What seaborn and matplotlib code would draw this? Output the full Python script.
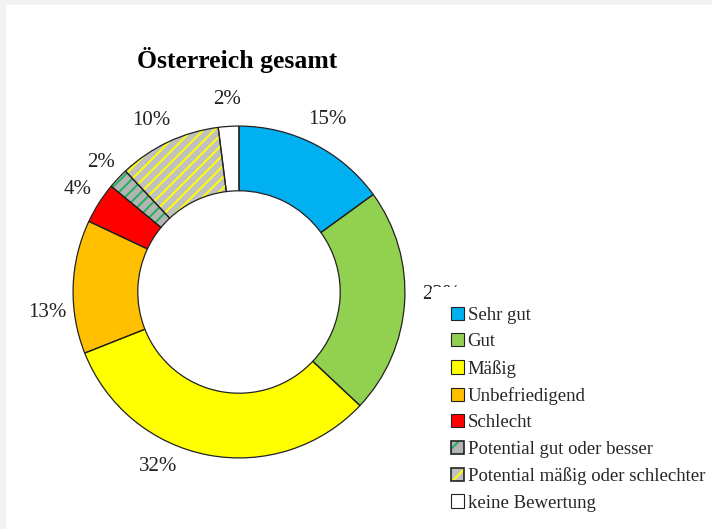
import numpy as np
import seaborn as sns
import matplotlib.pyplot as plt
from matplotlib.patches import Patch, Rectangle

# data
categories = ['Sehr gut', 'Gut', 'Mäßig', 'Unbefriedigend', 'Schlecht',
              'Potential gut oder besser', 'Potential mäßig oder schlechter',
              'keine Bewertung']
shares = [15, 22, 32, 13, 4, 2, 10, 2]
pct_labels = ['15%', '22%', '32%', '13%', '4%', '2%', '10%', '2%']

# styling
face_colors = ['#00B0F0', '#92D050', '#FFFF00', '#FFC000', '#FF0000',
               '#B4B4B4', '#C0C0C0', '#FFFFFF']
stripe_colors = [None, None, None, None, None, '#1FB25A', '#FFFF00', None]

sns.set_theme(style='white')
plt.rcParams['font.family'] = ['Liberation Serif', 'DejaVu Serif']
plt.rcParams['hatch.linewidth'] = 1.4

fig = plt.figure(figsize=(7.12, 5.29), dpi=100)
fig.patch.set_facecolor('#F1F3F2')
fig.patches.append(Rectangle((6 / 712, 0), 1, 524 / 529, transform=fig.transFigure,
                             facecolor='white', edgecolor='none', zorder=-1))

ax = fig.add_axes([15 / 712, 13 / 529, 448 / 712, 448 / 529])

# fill + hatch layer
wedges, _ = ax.pie(shares, startangle=90, counterclock=False, radius=1,
                   colors=face_colors,
                   wedgeprops=dict(width=0.39, linewidth=0))
for w, sc in zip(wedges, stripe_colors):
    if sc is not None:
        w.set_hatch('///')
        w.set_edgecolor(sc)

# outline layer
ax.pie(shares, startangle=90, counterclock=False, radius=1,
       colors=['none'] * len(shares),
       wedgeprops=dict(width=0.39, linewidth=0.9, edgecolor='#222222', fill=False))

ax.set_xlim(-1.35, 1.35)
ax.set_ylim(-1.35, 1.35)
ax.set_aspect('equal')
ax.axis('off')

# value labels around the ring (a couple nudged like the original)
label_shift_deg = [0, 3, -14, 8, 0, 0, 2, 0]
label_radius = [1.17, 1.22, 1.16, 1.16, 1.15, 1.14, 1.16, 1.16]
cum = np.cumsum([0] + shares[:-1])
for i, txt in enumerate(pct_labels):
    mid = 90 - (cum[i] + shares[i] / 2) / sum(shares) * 360 + label_shift_deg[i]
    r = label_radius[i]
    ax.text(r * np.cos(np.radians(mid)), r * np.sin(np.radians(mid)), txt,
            ha='center', va='center', fontsize=15, color='#222222')

fig.text(237 / 712, 1 - 60 / 529, 'Österreich gesamt', ha='center', va='center',
         fontsize=18.5, fontweight='bold', color='black')

handles = []
for fc, sc in zip(face_colors, stripe_colors):
    if sc is None:
        handles.append(Patch(facecolor=fc, edgecolor='#222222', linewidth=0.8))
    else:
        handles.append((Patch(facecolor=fc, edgecolor=sc, linewidth=0, hatch='//'),
                        Patch(fill=False, edgecolor='#222222', linewidth=1.2)))

leg = fig.legend(handles, categories, loc='upper left',
                 bbox_to_anchor=(431 / 712, 1 - 287 / 529),
                 frameon=True, fontsize=13.5, handlelength=0.7, handleheight=0.7,
                 handletextpad=0.2, labelspacing=0.5, borderpad=1.05,
                 borderaxespad=0)
leg.get_frame().set_facecolor('white')
leg.get_frame().set_edgecolor('none')
leg.get_frame().set_alpha(1)

fig.savefig('out.png', dpi=100)
